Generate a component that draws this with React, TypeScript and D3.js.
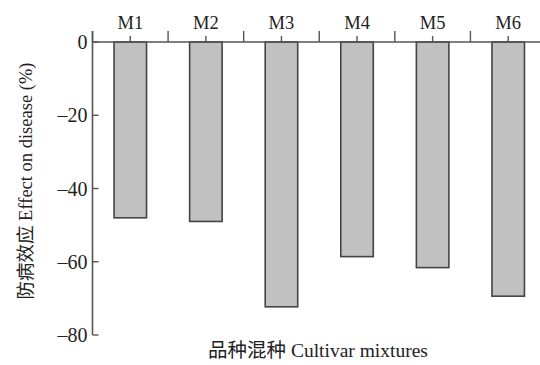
import React from 'react';
import * as d3 from 'd3';

const categories = ['M1', 'M2', 'M3', 'M4', 'M5', 'M6'];
const effects = [-48, -49, -72.3, -58.6, -61.6, -69.4];
const yTicks = [0, -20, -40, -60, -80];

const W = 540;
const H = 365;
const serif = 'Liberation Serif, Times New Roman, serif';
const cjk = 'Noto Sans CJK SC, sans-serif';

export default function App() {
  const x = d3.scaleBand<string>().domain(categories).range([92.5, 546]);
  const y = d3.scaleLinear().domain([0, -80]).range([42, 335]);
  const barW = x.bandwidth() * 0.43;
  const axisColor = '#555';

  return (
    <svg width={W} height={H} style={{ position: 'absolute', left: 0, top: 0, background: '#fff' }}>
      {/* bars */}
      {categories.map((c, i) => {
        const cx = x(c)! + x.bandwidth() / 2;
        return (
          <rect
            key={c}
            x={cx - barW / 2}
            y={y(0)}
            width={barW}
            height={y(effects[i]) - y(0)}
            fill="#c1c1c1"
            stroke="#444"
            strokeWidth={1.6}
          />
        );
      })}

      {/* y axis */}
      <line x1={92.5} x2={92.5} y1={31} y2={y(-80)} stroke={axisColor} strokeWidth={1.6} />
      {yTicks.map(t => (
        <g key={t} transform={`translate(92.5,${y(t)})`}>
          <line x1={0} x2={6} stroke={axisColor} strokeWidth={1.4} />
          <text x={-5} dy="0.35em" textAnchor="end" fontFamily={serif} fontSize={20} fill="#222">
            {t === 0 ? '0' : `\u2013${Math.abs(t)}`}
          </text>
        </g>
      ))}

      {/* top category axis */}
      <line x1={92.5} x2={546} y1={y(0)} y2={y(0)} stroke={axisColor} strokeWidth={1.6} />
      {categories.map(c => {
        const left = x(c)!;
        const cx = left + x.bandwidth() / 2;
        return (
          <g key={c}>
            <line x1={left} x2={left} y1={y(0)} y2={y(0) - 11} stroke={axisColor} strokeWidth={1.4} />
            <line x1={cx} x2={cx} y1={y(0)} y2={y(0) - 6} stroke={axisColor} strokeWidth={1.4} />
            <text x={cx} y={29} textAnchor="middle" fontFamily={serif} fontSize={18.5} fill="#222">
              {c}
            </text>
          </g>
        );
      })}

      {/* axis titles */}
      <text
        transform={`translate(32,181) rotate(-90)`}
        textAnchor="middle"
        fontSize={18.5}
        fill="#222"
      >
        <tspan fontFamily={cjk}>防病效应</tspan>
        <tspan fontFamily={serif}> Effect on disease (%)</tspan>
      </text>
      <text x={318} y={357} textAnchor="middle" fontSize={19.5} fill="#222">
        <tspan fontFamily={cjk}>品种混种</tspan>
        <tspan fontFamily={serif}> Cultivar mixtures</tspan>
      </text>
    </svg>
  );
}
